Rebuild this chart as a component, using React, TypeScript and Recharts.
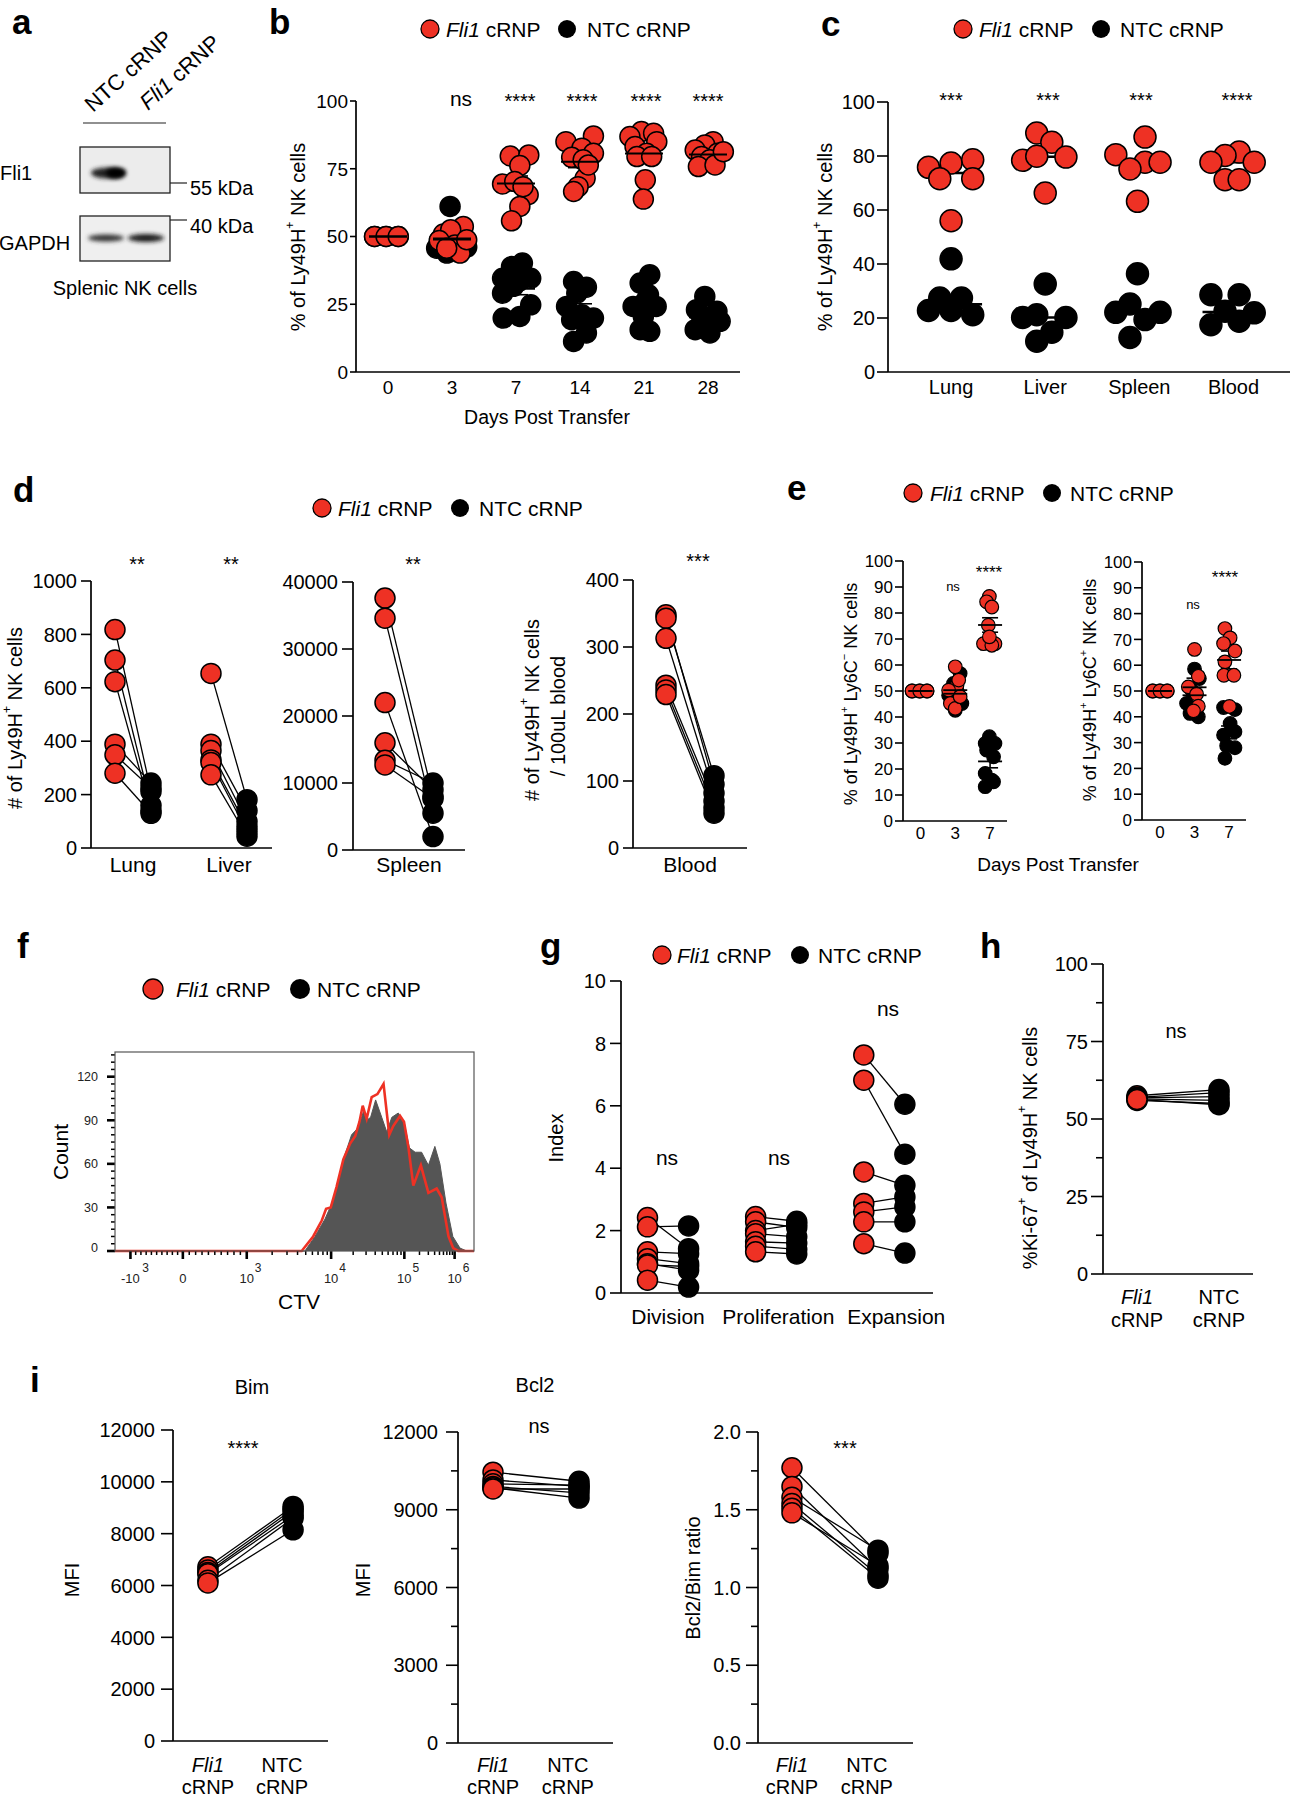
import React from 'react';
import { ScatterChart, ComposedChart, Scatter, XAxis, YAxis, ErrorBar, Area, Line } from 'recharts';

const FONT = '"Liberation Sans", Arial, Helvetica, sans-serif';
const RED = '#ee3124';
const BLACK = '#000000';
const GREY = '#555555';

// ---------- b: Ly49H+ share over time (jittered dots, mean +/- SEM)
const bDays = ['0', '3', '7', '14', '21', '28'];
const bFli1 = [
  [50, 50, 50],
  [50.9, 53.7, 52.5, 46.9, 43.9, 48.5, 48.8, 45.7],
  [79.7, 80.1, 76.2, 69.4, 65.4, 61.1, 55.8, 70.3, 68.4],
  [87.1, 85, 82.6, 80.7, 79.2, 78.3, 71.5, 68.4, 66.6, 76.4],
  [88.7, 88.1, 86.9, 85, 83.2, 80.7, 79.5, 70.9, 63.8, 79.5],
  [85, 83.8, 81.9, 80.7, 79.5, 78.3, 75.8, 76.4, 81.3],
];
const bFli1Jitter = [
  [-0.21, -0.03, 0.16],
  [-0.135, 0.177, -0.02, 0.047, 0.125, -0.2, 0.23, -0.083],
  [-0.09, 0.2, 0.06, -0.21, 0.19, 0.06, -0.07, -0.02, 0.11],
  [0.21, -0.22, 0.03, 0.21, -0.13, 0.05, 0.08, -0.03, -0.1, 0.13],
  [-0.04, 0.15, -0.22, 0.2, -0.14, 0.04, -0.11, 0.02, -0.01, 0.12],
  [0.08, -0.05, -0.2, 0.15, -0.1, 0.03, -0.15, 0.11, 0.24],
];
const bNtc = [
  [50, 50, 50],
  [61.1, 45.7, 46.1, 48.2, 43.9, 51.2, 48.8],
  [38.9, 40.2, 34.6, 34.6, 31.6, 29.1, 24.8, 19.9, 20.5, 33.4],
  [33.4, 31.3, 29.1, 24.2, 19.9, 19.3, 14.4, 11.3, 21.1],
  [35.9, 32.8, 28.5, 24.2, 24.2, 20.5, 15.6, 15, 26],
  [27.9, 22.4, 23, 19.3, 15.6, 14.4, 18.7, 20.5],
];
const bNtcJitter = [
  [-0.21, -0.03, 0.16],
  [-0.03, -0.24, 0.23, 0.125, -0.08, 0.02, -0.19],
  [-0.07, 0.1, -0.21, 0.23, -0.04, -0.21, 0.23, -0.2, 0.06, 0.04],
  [-0.1, 0.1, -0.05, -0.21, 0.21, -0.13, 0.1, -0.1, 0.03],
  [0.09, -0.06, 0.07, -0.17, 0.19, -0.01, -0.06, 0.09, 0.02],
  [-0.05, 0.14, -0.18, 0.03, -0.2, 0.03, 0.19, -0.1],
];

// ---------- c: tissues (median lines)
const cTissues = ['Lung', 'Liver', 'Spleen', 'Blood'];
const cFli1 = [
  [75.8, 77.4, 78.6, 71.6, 71.6, 56],
  [88.5, 85.1, 78.4, 79.9, 79.6, 66.3],
  [87, 80.5, 77.7, 77.7, 75.2, 63.2],
  [81.5, 80.2, 77.7, 77.7, 71.2, 71.2],
];
const cFli1Jitter = [
  [-0.24, 0, 0.23, -0.12, 0.23, 0],
  [-0.09, 0.07, -0.24, -0.09, 0.22, 0],
  [0.06, -0.25, 0.06, 0.22, -0.1, -0.02],
  [0.06, -0.09, -0.24, 0.22, -0.09, 0.06],
];
const cNtc = [
  [41.9, 27.4, 27.4, 22.8, 22.8, 21.2],
  [32.6, 20.2, 21.2, 20.2, 14.7, 11.4],
  [36.4, 25.2, 22.1, 22.1, 19.4, 12.8],
  [28.6, 28.6, 22.5, 21.9, 17.5, 18.8],
];
const cNtcJitter = [
  [0, -0.12, 0.11, -0.24, 0, 0.23],
  [0, -0.24, -0.09, 0.22, 0.07, -0.09],
  [-0.02, -0.1, -0.25, 0.22, 0.06, -0.1],
  [-0.24, 0.06, -0.09, 0.22, -0.24, 0.06],
];

// ---------- d: paired counts
const dLungFli1 = [818, 704, 623, 389, 349, 280];
const dLungNtc = [212, 160, 140, 243, 225, 130];
const dLiverFli1 = [654, 389, 365, 330, 320, 274];
const dLiverNtc = [181, 140, 100, 80, 62, 44];
const dSpleenFli1 = [37600, 34600, 22000, 16000, 13400, 12700];
const dSpleenNtc = [8000, 5500, 2000, 9000, 10000, 7700];
const dBloodFli1 = [348, 343, 313, 243, 236, 229];
const dBloodNtc = [95, 108, 82, 70, 60, 52];

// ---------- e: Ly6C- / Ly6C+ subsets
const eDays = ['0', '3', '7'];
const e1Fli1 = [
  [50, 50, 50],
  [59.3, 52.2, 50.3, 45.2, 43.3, 47.8, 54.2],
  [86.4, 84.3, 82.3, 75.3, 68.2, 68.2, 67.6, 70.8],
];
const e1Fli1Jitter = [
  [-0.24, -0.02, 0.19],
  [0, 0.05, -0.19, -0.14, 0, 0.14, 0.1],
  [-0.02, -0.1, 0.05, -0.05, 0.14, -0.19, 0.05, -0.02],
];
const e1Ntc = [
  [50, 50, 50],
  [56.7, 52.9, 48.4, 45.2, 42.6, 46.5, 50.3],
  [32.4, 29.8, 29.8, 27.3, 24.7, 18.3, 15.7, 13.2, 15.1],
];
const e1NtcJitter = [
  [-0.24, -0.02, 0.19],
  [0.14, -0.05, -0.19, 0.19, 0, -0.1, 0.05],
  [-0.02, -0.14, 0.14, -0.1, 0.1, -0.14, 0.05, -0.14, 0.1],
];
const e2Fli1 = [
  [50, 50, 50],
  [66.1, 55.7, 51.6, 48.8, 44.1, 42.3],
  [74.2, 70.6, 68.4, 65.5, 61.3, 56.1, 56.1, 44],
];
const e2Fli1Jitter = [
  [-0.21, 0, 0.21],
  [0, 0.11, -0.18, 0.06, 0.11, -0.03],
  [-0.12, 0.03, -0.16, 0.17, -0.12, -0.15, 0.14, 0.01],
];
const e2Ntc = [
  [50, 50, 50],
  [58.5, 54.8, 45.2, 41.3, 40, 50.3],
  [43.6, 42.8, 34.2, 32.9, 28, 28.8, 23.9, 37.4],
];
const e2NtcJitter = [
  [-0.21, 0, 0.21],
  [0, 0.14, -0.23, -0.13, 0.11, -0.08],
  [-0.16, 0.17, 0.17, -0.16, 0.17, -0.07, -0.12, 0.03],
];

// ---------- f: CTV histogram (x in display channels of the biex axis)
const ctvNtcChannel = [0, 529, 557, 585, 608, 636, 659, 678, 692, 701, 712, 726, 743, 757, 771, 789, 805, 820, 836, 854, 873, 891, 905, 922, 941, 961, 980, 1000];
const ctvNtcCount = [0, 0, 10, 22, 35, 63, 80, 85, 96, 90, 92, 104, 92, 82, 92, 95, 89, 71, 68, 68, 59, 72, 60, 33, 10, 2, 0, 0];
const ctvFli1Channel = [0, 520, 552, 576, 588, 601, 617, 636, 655, 669, 681, 690, 701, 715, 731, 748, 764, 775, 794, 805, 817, 831, 852, 873, 896, 910, 929, 942, 956, 1000];
const ctvFli1Count = [0, 0, 10, 21, 29, 30, 44, 63, 74, 79, 89, 100, 91, 106, 108, 115, 80, 86, 93, 89, 72, 45, 59, 40, 43, 37, 10, 2, 0, 0];
const ctvDecades = [43, 189, 367, 602, 806, 946];
const ctvDecadeLabels = [['-10', '3'], ['0', ''], ['10', '3'], ['10', '4'], ['10', '5'], ['10', '6']];

// ---------- g: division / proliferation / expansion index
const gIndices = ['Division', 'Proliferation', 'Expansion'];
const gFli1 = [
  [2.42, 2.12, 1.32, 1.1, 0.94, 0.9, 0.41],
  [2.45, 2.28, 2.0, 1.9, 1.64, 1.5, 1.32],
  [7.63, 6.82, 3.88, 2.87, 2.6, 2.28, 1.58],
];
const gNtc = [
  [1.42, 2.15, 1.26, 0.94, 0.73, 0.85, 0.19],
  [2.3, 2.1, 2.2, 1.8, 1.6, 1.4, 1.25],
  [6.05, 4.45, 3.45, 3.08, 2.76, 2.28, 1.28],
];

// ---------- h: Ki-67
const hFli1 = [57.5, 57, 56.8, 56.5, 56, 56.3];
const hNtc = [59.5, 58.5, 57.2, 56, 55, 54.6];

// ---------- i: Bim / Bcl2
const iBimFli1 = [6720, 6600, 6500, 6450, 6200, 6100];
const iBimNtc = [9050, 8950, 8850, 8700, 8600, 8150];
const iBcl2Fli1 = [10450, 10150, 10000, 9900, 9850, 9800];
const iBcl2Ntc = [10100, 9900, 9950, 9650, 9450, 9800];
const iRatioFli1 = [1.77, 1.65, 1.58, 1.54, 1.51, 1.48];
const iRatioNtc = [1.22, 1.12, 1.24, 1.08, 1.06, 1.14];

// ---------- helpers
const mean = (a: number[]) => a.reduce((s, v) => s + v, 0) / a.length;
const sem = (a: number[]) => {
  if (a.length < 2) return 0;
  const m = mean(a);
  return Math.sqrt(a.reduce((s, v) => s + (v - m) ** 2, 0) / (a.length - 1) / a.length);
};
const median = (a: number[]) => {
  const s = [...a].sort((p, q) => p - q);
  const k = Math.floor(s.length / 2);
  return s.length % 2 ? s[k] : (s[k - 1] + s[k]) / 2;
};
const jittered = (groups: number[][], jitter: number[][]) =>
  groups.flatMap((g, i) => g.map((v, j) => ({ x: i + jitter[i][j], y: v })));
const meanSem = (groups: number[][]) => groups.map((g, i) => ({ x: i, y: mean(g), sem: sem(g) }));
const medians = (groups: number[][]) => groups.map((g, i) => ({ x: i, y: median(g) }));
const column = (vals: number[], x: number) => vals.map((v) => ({ x, y: v }));
const zip = (xs: number[], ys: number[]) => xs.map((x, i) => ({ x, y: ys[i] }));
const range = (a: number, b: number, step: number) => {
  const out: number[] = [];
  for (let v = a; v <= b + 1e-9; v += step) out.push(Math.round(v * 1000) / 1000);
  return out;
};

type Box = { x0: number; y0: number; x1: number; y1: number };
const PL = 100;
const PT = 16;
const PR = 16;
const PB = 70;
const AX = { stroke: BLACK, strokeWidth: 1.7 };

function Frame({ box, composed, children }: { box: Box; composed?: boolean; children: React.ReactNode }) {
  const w = box.x1 - box.x0 + PL + PR;
  const h = box.y1 - box.y0 + PT + PB;
  const C: any = composed ? ComposedChart : ScatterChart;
  return (
    <div style={{ position: 'absolute', left: box.x0 - PL, top: box.y0 - PT, width: w, height: h }}>
      <C width={w} height={h} margin={{ top: PT, right: PR, bottom: 0, left: 0 }}>
        {children}
      </C>
    </div>
  );
}

const yTick =
  (fs: number, len: number, gap: number, fmt: (v: number) => string = String, isMajor: (v: number) => boolean = () => true, minorLen = 7) =>
  (p: any) => {
    const v = p.payload.value;
    const major = isMajor(v);
    const L = major ? len : minorLen;
    return (
      <g>
        <line x1={p.x - L} x2={p.x} y1={p.y} y2={p.y} stroke={BLACK} strokeWidth={1.6} />
        {major && (
          <text x={p.x - L - gap} y={p.y} dy="0.36em" textAnchor="end" fontSize={fs} fontFamily={FONT} fill={BLACK}>
            {fmt(v)}
          </text>
        )}
      </g>
    );
  };

const xTick = (fs: number, dy: number, labels: string[]) => (p: any) => (
  <text x={p.x} y={p.y + dy} textAnchor="middle" fontSize={fs} fontFamily={FONT} fill={BLACK}>
    {labels[Math.round(p.payload.value)]}
  </text>
);

const xTickGroups = (dy1: number, dy2: number) => (p: any) => {
  const first = Math.round(p.payload.value) === 0;
  return (
    <text x={p.x} y={p.y + dy1} textAnchor="middle" fontSize={20} fontFamily={FONT} fill={BLACK}>
      {first ? <tspan fontStyle="italic">Fli1</tspan> : 'NTC'}
      <tspan x={p.x} y={p.y + dy2}>
        cRNP
      </tspan>
    </text>
  );
};

const xAxis = (domain: number[], ticks: number[], tick: any) => (
  <XAxis key="xa" type="number" dataKey="x" domain={domain} ticks={ticks} interval={0} tick={tick} tickLine={false} tickSize={0} tickMargin={0} axisLine={AX} height={PB} />
);
const yAxis = (domain: number[], ticks: number[], tick: any) => (
  <YAxis key="ya" type="number" dataKey="y" domain={domain} ticks={ticks} interval={0} tick={tick} tickLine={false} tickSize={0} tickMargin={0} axisLine={AX} width={PL} />
);

const dotShape = (fill: string, r: number, sw: number) => (p: any) =>
  <circle cx={p.cx} cy={p.cy} r={r} fill={fill} stroke={BLACK} strokeWidth={sw} />;
const barShape = (half: number, sw: number) => (p: any) =>
  <line x1={p.cx - half} x2={p.cx + half} y1={p.cy} y2={p.cy} stroke={BLACK} strokeWidth={sw} />;
const noShape = () => <g />;

const dots = (key: string, data: any[], fill: string, r: number, sw = 1.5) => (
  <Scatter key={key} data={data} shape={dotShape(fill, r, sw)} isAnimationActive={false} />
);
const meanBars = (key: string, data: any[], half: number, cap: number, sw = 2) => (
  <Scatter key={key} data={data} shape={barShape(half, sw)} isAnimationActive={false}>
    <ErrorBar dataKey="sem" direction="y" width={cap} stroke={BLACK} strokeWidth={1.6} isAnimationActive={false} />
  </Scatter>
);
const medianBars = (key: string, data: any[], half: number) => (
  <Scatter key={key} data={data} shape={barShape(half, 2.6)} isAnimationActive={false} />
);
const pairLines = (key: string, a: number[], b: number[], xa: number, xb: number) =>
  a.map((v, i) => (
    <Scatter key={`${key}${i}`} data={[{ x: xa, y: v }, { x: xb, y: b[i] }]} line={{ stroke: BLACK, strokeWidth: 1.3 }} shape={noShape} isAnimationActive={false} />
  ));

// x positions for the f axis minor ticks (display channel units)
const ctvMinor = [
  ...range(1, 9, 1).map((m) => ctvDecades[1] - ((ctvDecades[1] - ctvDecades[0]) * m) / 10),
  ...range(1, 9, 1).map((m) => ctvDecades[1] + ((ctvDecades[2] - ctvDecades[1]) * m) / 10),
  ...range(2, 9, 1).map((m) => ctvDecades[2] + (ctvDecades[3] - ctvDecades[2]) * Math.log10(m)),
  ...range(2, 9, 1).map((m) => ctvDecades[3] + (ctvDecades[4] - ctvDecades[3]) * Math.log10(m)),
  ...range(2, 9, 1).map((m) => ctvDecades[4] + (ctvDecades[5] - ctvDecades[4]) * Math.log10(m)),
];

const ctvXTick = (p: any) => {
  const k = ctvDecades.indexOf(p.payload.value);
  if (k < 0) return <line x1={p.x} x2={p.x} y1={p.y} y2={p.y + 4} stroke={BLACK} strokeWidth={1.5} />;
  const [main, sup] = ctvDecadeLabels[k];
  const off = main.length * 3.7 + 4;
  return (
    <g>
      <line x1={p.x} x2={p.x} y1={p.y} y2={p.y + 8} stroke={BLACK} strokeWidth={2.6} />
      <text x={p.x} y={p.y + 32} textAnchor="middle" fontSize={13} fontFamily={FONT} fill="#222">{main}</text>
      {sup && <text x={p.x + off} y={p.y + 21} textAnchor="middle" fontSize={12} fontFamily={FONT} fill="#222">{sup}</text>}
    </g>
  );
};
const ctvYTick = (p: any) => {
  const v = p.payload.value;
  const major = v % 30 === 0;
  return (
    <g>
      <line x1={p.x - (major ? 8 : 4)} x2={p.x} y1={p.y} y2={p.y} stroke={BLACK} strokeWidth={major ? 2.6 : 1.5} />
      {major && (
        <text x={p.x - 17} y={v === 0 ? p.y - 4 : p.y} dy="0.36em" textAnchor="end" fontSize={12.5} fontFamily={FONT} fill="#222">{v}</text>
      )}
    </g>
  );
};

function Legend({ c1, cy, t1, c2, t2, r = 9 }: { c1: number; cy: number; t1: number; c2: number; t2: number; r?: number }) {
  return (
    <g>
      <circle cx={c1} cy={cy} r={r} fill={RED} stroke={BLACK} strokeWidth={1.3} />
      <text x={t1} y={cy + 7.5} fontSize={21}>
        <tspan fontStyle="italic">Fli1</tspan> cRNP
      </text>
      <circle cx={c2} cy={cy} r={r} fill={BLACK} />
      <text x={t2} y={cy + 7.5} fontSize={21}>NTC cRNP</text>
    </g>
  );
}

function VText({ x, y, s, children }: { x: number; y: number; s: number; children: React.ReactNode }) {
  return (
    <text transform={`translate(${x},${y}) rotate(-90)`} textAnchor="middle" dominantBaseline="central" fontSize={s}>
      {children}
    </text>
  );
}

const Ly49 = ({ s }: { s: number }) => (
  <>
    Ly49H<tspan fontSize={s * 0.6} dy={-s * 0.4}>+</tspan>
    <tspan dy={s * 0.4}> </tspan>
  </>
);

function Overlay() {
  const sig = (x: number, y: number, label: string, s = 20) => (
    <text x={x} y={y} textAnchor="middle" fontSize={s}>{label}</text>
  );
  return (
    <svg width={1294} height={1800} style={{ position: 'absolute', left: 0, top: 0, pointerEvents: 'none' }} fontFamily={FONT} fill={BLACK}>
      <defs>
        <filter id="blur" x="-50%" y="-100%" width="200%" height="300%">
          <feGaussianBlur stdDeviation={2} />
        </filter>
      </defs>

      {/* panel letters */}
      <g fontSize={35} fontWeight="bold">
        <text x={12} y={34}>a</text>
        <text x={269} y={34}>b</text>
        <text x={821} y={36}>c</text>
        <text x={13} y={502}>d</text>
        <text x={787} y={500}>e</text>
        <text x={17} y={958}>f</text>
        <text x={540} y={958}>g</text>
        <text x={980} y={958}>h</text>
        <text x={30} y={1392}>i</text>
      </g>

      {/* a: western blot */}
      <text transform="translate(93,113) rotate(-42)" fontSize={22}>NTC cRNP</text>
      <text transform="translate(148,111) rotate(-42)" fontSize={22}>
        <tspan fontStyle="italic">Fli1</tspan> cRNP
      </text>
      <line x1={83} x2={166} y1={123} y2={123} stroke="#222" strokeWidth={1.2} />
      <rect x={80} y={147} width={90} height={46} fill="#ececec" stroke="#222" strokeWidth={1.3} />
      <ellipse cx={108} cy={173} rx={17} ry={5.5} fill="#222" filter="url(#blur)" />
      <ellipse cx={116} cy={173} rx={10} ry={5.5} fill="#000" filter="url(#blur)" />
      <rect x={80} y={216} width={90} height={45} fill="#efefef" stroke="#222" strokeWidth={1.3} />
      <ellipse cx={106} cy={238} rx={18} ry={3.5} fill="#333" filter="url(#blur)" />
      <ellipse cx={146} cy={238} rx={18} ry={4} fill="#1a1a1a" filter="url(#blur)" />
      <line x1={170} x2={187} y1={183} y2={183} stroke="#222" strokeWidth={1.2} />
      <line x1={170} x2={187} y1={220} y2={220} stroke="#222" strokeWidth={1.2} />
      <text x={190} y={195} fontSize={20}>55 kDa</text>
      <text x={190} y={233} fontSize={20}>40 kDa</text>
      <text x={0} y={180} fontSize={20}>Fli1</text>
      <text x={-1} y={250} fontSize={20}>GAPDH</text>
      <text x={125} y={295} fontSize={20} textAnchor="middle">Splenic NK cells</text>

      {/* legends */}
      <Legend c1={430} cy={29} t1={446} c2={567} t2={587} />
      <Legend c1={963} cy={29} t1={979} c2={1101} t2={1120} />
      <Legend c1={322} cy={508} t1={338} c2={460} t2={479} />
      <Legend c1={913} cy={493} t1={930} c2={1052} t2={1070} />
      <Legend c1={153} cy={989} t1={176} c2={300} t2={317} r={10} />
      <Legend c1={662} cy={955} t1={677} c2={800} t2={818} />

      {/* axis titles */}
      <VText x={298} y={237} s={20}>% of <Ly49 s={20} />NK cells</VText>
      <text x={547} y={424} fontSize={19.5} textAnchor="middle">Days Post Transfer</text>
      <VText x={825} y={237} s={20}>% of <Ly49 s={20} />NK cells</VText>
      <VText x={15} y={718} s={20}># of <Ly49 s={20} />NK cells</VText>
      <VText x={532} y={710} s={20}># of <Ly49 s={20} />NK cells</VText>
      <VText x={558} y={716} s={20}>/ 100uL blood</VText>
      <VText x={851} y={694} s={18}>
        % of <Ly49 s={18} />Ly6C<tspan fontSize={11} dy={-7}>−</tspan>
        <tspan dy={7}> NK cells</tspan>
      </VText>
      <VText x={1090} y={690} s={18}>
        % of <Ly49 s={18} />Ly6C<tspan fontSize={11} dy={-7}>+</tspan>
        <tspan dy={7}> NK cells</tspan>
      </VText>
      <text x={1058} y={871} fontSize={19} textAnchor="middle">Days Post Transfer</text>
      <VText x={60} y={1152} s={21}>Count</VText>
      <text x={299} y={1309} fontSize={21} textAnchor="middle">CTV</text>
      <rect x={115} y={1052} width={359} height={199} fill="none" stroke={GREY} strokeWidth={1.2} />
      <VText x={556} y={1138} s={20}>Index</VText>
      <VText x={1030} y={1148} s={20}>
        %Ki-67<tspan fontSize={12} dy={-8}>+</tspan>
        <tspan dy={8}> of </tspan>
        <Ly49 s={20} />NK cells
      </VText>
      <text x={252} y={1394} fontSize={20} textAnchor="middle">Bim</text>
      <text x={535} y={1392} fontSize={20} textAnchor="middle">Bcl2</text>
      <VText x={72} y={1580} s={20}>MFI</VText>
      <VText x={363} y={1580} s={20}>MFI</VText>
      <VText x={693} y={1578} s={20}>Bcl2/Bim ratio</VText>

      {/* significance */}
      {sig(461, 106, 'ns', 21)}
      {sig(520, 108, '****')}
      {sig(582, 108, '****')}
      {sig(646, 108, '****')}
      {sig(708, 108, '****')}
      {sig(951, 107, '***')}
      {sig(1048, 107, '***')}
      {sig(1141, 107, '***')}
      {sig(1237, 107, '****')}
      {sig(137, 571, '**')}
      {sig(231, 571, '**')}
      {sig(413, 571, '**')}
      {sig(698, 568, '***')}
      {sig(953, 591, 'ns', 13)}
      {sig(989, 578, '****', 17)}
      {sig(1193, 609, 'ns', 13)}
      {sig(1225, 583, '****', 17)}
      {sig(667, 1165, 'ns', 21)}
      {sig(779, 1165, 'ns', 21)}
      {sig(888, 1016, 'ns', 21)}
      {sig(1176, 1038, 'ns', 20)}
      {sig(243, 1455, '****')}
      {sig(539, 1433, 'ns')}
      {sig(845, 1455, '***')}
    </svg>
  );
}

export default function App() {
  const dOff = 0.1875;
  const gOff = 0.19;
  return (
    <div style={{ position: 'absolute', left: 0, top: 0, width: 1294, height: 1800, background: '#fff', overflow: 'hidden', fontFamily: FONT }}>
      {/* b */}
      <Frame box={{ x0: 356, y0: 101, x1: 740, y1: 372 }}>
        {xAxis([-0.5, 5.5], [0, 1, 2, 3, 4, 5], xTick(19, 22, bDays))}
        {yAxis([0, 100], [0, 25, 50, 75, 100], yTick(19, 6, 2))}
        {dots('bn', jittered(bNtc, bNtcJitter), BLACK, 10)}
        {dots('bf', jittered(bFli1, bFli1Jitter), RED, 10)}
        {meanBars('bnm', meanSem(bNtc), 19, 12)}
        {meanBars('bfm', meanSem(bFli1), 19, 12)}
      </Frame>

      {/* c */}
      <Frame box={{ x0: 888, y0: 102, x1: 1290, y1: 372 }}>
        {xAxis([-0.67, 3.6], [0, 1, 2, 3], xTick(20, 22, cTissues))}
        {yAxis([0, 100], range(0, 100, 20), yTick(20, 11, 2))}
        {medianBars('cnm', medians(cNtc), 31)}
        {medianBars('cfm', medians(cFli1), 31)}
        {dots('cn', jittered(cNtc, cNtcJitter), BLACK, 11)}
        {dots('cf', jittered(cFli1, cFli1Jitter), RED, 11)}
      </Frame>

      {/* d: lung & liver */}
      <Frame box={{ x0: 91, y0: 581, x1: 272, y1: 848 }}>
        {xAxis([-0.4375, 1.448], [0, 1], xTick(21, 24, ['Lung', 'Liver']))}
        {yAxis([0, 1000], range(0, 1000, 200), yTick(20, 10, 4))}
        {pairLines('dl', dLungFli1, dLungNtc, -dOff, dOff)}
        {pairLines('dv', dLiverFli1, dLiverNtc, 1 - dOff, 1 + dOff)}
        {dots('dlf', column(dLungFli1, -dOff), RED, 10)}
        {dots('dvf', column(dLiverFli1, 1 - dOff), RED, 10)}
        {dots('dln', column(dLungNtc, dOff), BLACK, 10)}
        {dots('dvn', column(dLiverNtc, 1 + dOff), BLACK, 10)}
      </Frame>

      {/* d: spleen */}
      <Frame box={{ x0: 353, y0: 582, x1: 465, y1: 850 }}>
        {xAxis([-1.167, 1.167], [0], xTick(21, 22, ['Spleen']))}
        {yAxis([0, 40000], range(0, 40000, 10000), yTick(20, 11, 4))}
        {pairLines('ds', dSpleenFli1, dSpleenNtc, -0.5, 0.5)}
        {dots('dsf', column(dSpleenFli1, -0.5), RED, 10)}
        {dots('dsn', column(dSpleenNtc, 0.5), BLACK, 10)}
      </Frame>

      {/* d: blood */}
      <Frame box={{ x0: 633, y0: 580, x1: 747, y1: 848 }}>
        {xAxis([-1.1875, 1.1875], [0], xTick(21, 24, ['Blood']))}
        {yAxis([0, 400], range(0, 400, 100), yTick(20, 10, 4))}
        {pairLines('db', dBloodFli1, dBloodNtc, -0.5, 0.5)}
        {dots('dbf', column(dBloodFli1, -0.5), RED, 10)}
        {dots('dbn', column(dBloodNtc, 0.5), BLACK, 10)}
      </Frame>

      {/* e: Ly6C- */}
      <Frame box={{ x0: 903, y0: 561, x1: 1007, y1: 821 }}>
        {xAxis([-0.5, 2.486], [0, 1, 2], xTick(17, 18, eDays))}
        {yAxis([0, 100], range(0, 100, 10), yTick(17, 8, 2))}
        {dots('e1n', jittered(e1Ntc, e1NtcJitter), BLACK, 6.8, 1.2)}
        {dots('e1f', jittered(e1Fli1, e1Fli1Jitter), RED, 6.8, 1.2)}
        {meanBars('e1nm', meanSem(e1Ntc), 12, 8, 1.8)}
        {meanBars('e1fm', meanSem(e1Fli1), 12, 8, 1.8)}
      </Frame>

      {/* e: Ly6C+ */}
      <Frame box={{ x0: 1142, y0: 562, x1: 1246, y1: 820 }}>
        {xAxis([-0.52, 2.49], [0, 1, 2], xTick(17, 18, eDays))}
        {yAxis([0, 100], range(0, 100, 10), yTick(17, 8, 2))}
        {dots('e2n', jittered(e2Ntc, e2NtcJitter), BLACK, 6.8, 1.2)}
        {dots('e2f', jittered(e2Fli1, e2Fli1Jitter), RED, 6.8, 1.2)}
        {meanBars('e2nm', meanSem(e2Ntc), 12, 8, 1.8)}
        {meanBars('e2fm', meanSem(e2Fli1), 12, 8, 1.8)}
      </Frame>

      {/* f: CTV histogram */}
      <Frame box={{ x0: 115, y0: 1052, x1: 474, y1: 1251 }} composed>
        <XAxis key="xa" type="number" dataKey="x" domain={[0, 1000]} ticks={[...ctvDecades, ...ctvMinor]} interval={0} tick={ctvXTick} tickLine={false} tickSize={0} tickMargin={0} axisLine={false} height={PB} />
        <YAxis key="ya" type="number" dataKey="y" domain={[0, 137]} ticks={range(0, 135, 5)} interval={0} tick={ctvYTick} tickLine={false} tickSize={0} tickMargin={0} axisLine={false} width={PL} />
        <Area key="ntc" data={zip(ctvNtcChannel, ctvNtcCount)} dataKey="y" type="linear" fill={GREY} fillOpacity={1} stroke={GREY} strokeWidth={1} isAnimationActive={false} />
        <Line key="fli" data={zip(ctvFli1Channel, ctvFli1Count)} dataKey="y" type="linear" stroke={RED} strokeWidth={2.6} dot={false} isAnimationActive={false} />
      </Frame>

      {/* g */}
      <Frame box={{ x0: 621, y0: 981, x1: 933, y1: 1293 }}>
        {xAxis([-0.435, 2.45], [0, 1.02, 2.11], xTick(21, 31, gIndices))}
        {yAxis([0, 10], range(0, 10, 2), yTick(20, 11, 4))}
        {gFli1.flatMap((g, i) => pairLines(`g${i}`, g, gNtc[i], i - gOff, i + gOff))}
        {gFli1.map((g, i) => dots(`gf${i}`, column(g, i - gOff), RED, 10))}
        {gNtc.map((g, i) => dots(`gn${i}`, column(g, i + gOff), BLACK, 10))}
      </Frame>

      {/* h */}
      <Frame box={{ x0: 1103, y0: 964, x1: 1253, y1: 1274 }}>
        {xAxis([-0.415, 1.415], [0, 1], xTickGroups(30, 53))}
        {yAxis([0, 100], range(0, 100, 12.5), yTick(20, 12, 3, String, (v) => v % 25 === 0, 7))}
        {pairLines('h', hFli1, hNtc, 0, 1)}
        {dots('hf', column(hFli1, 0), RED, 10)}
        {dots('hn', column(hNtc, 1), BLACK, 10)}
      </Frame>

      {/* i: Bim */}
      <Frame box={{ x0: 173, y0: 1430, x1: 328, y1: 1741 }}>
        {xAxis([-0.41, 1.41], [0, 0.87], xTickGroups(31, 53))}
        {yAxis([0, 12000], range(0, 12000, 2000), yTick(20, 12, 6))}
        {pairLines('ib', iBimFli1, iBimNtc, 0, 1)}
        {dots('ibf', column(iBimFli1, 0), RED, 10)}
        {dots('ibn', column(iBimNtc, 1), BLACK, 10)}
      </Frame>

      {/* i: Bcl2 */}
      <Frame box={{ x0: 458, y0: 1432, x1: 613, y1: 1743 }}>
        {xAxis([-0.407, 1.395], [0, 0.87], xTickGroups(29, 51))}
        {yAxis([0, 12000], range(0, 12000, 1500), yTick(20, 12, 8, String, (v) => v % 3000 === 0, 7))}
        {pairLines('ic', iBcl2Fli1, iBcl2Ntc, 0, 1)}
        {dots('icf', column(iBcl2Fli1, 0), RED, 10)}
        {dots('icn', column(iBcl2Ntc, 1), BLACK, 10)}
      </Frame>

      {/* i: ratio */}
      <Frame box={{ x0: 758, y0: 1432, x1: 913, y1: 1743 }}>
        {xAxis([-0.395, 1.407], [0, 0.87], xTickGroups(29, 51))}
        {yAxis([0, 2], range(0, 2, 0.25), yTick(20, 12, 5, (v) => v.toFixed(1), (v) => Math.abs(v * 2 - Math.round(v * 2)) < 1e-6, 7))}
        {pairLines('ir', iRatioFli1, iRatioNtc, 0, 1)}
        {dots('irf', column(iRatioFli1, 0), RED, 10)}
        {dots('irn', column(iRatioNtc, 1), BLACK, 10)}
      </Frame>

      <Overlay />
    </div>
  );
}
